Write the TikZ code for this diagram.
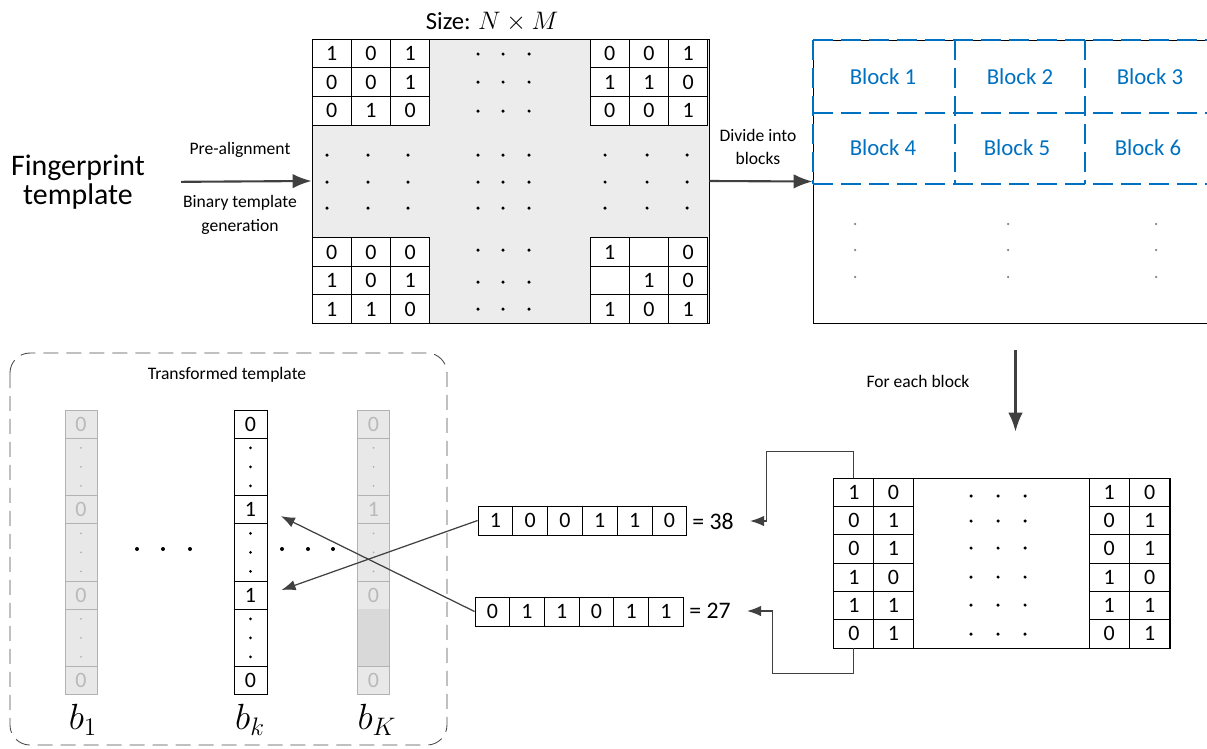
\documentclass[tikz,border=0pt]{standalone}
\usepackage{fontspec}
\setmainfont{Carlito}
\usepackage{amsmath}
\usetikzlibrary{arrows,arrows.meta,calc}

\definecolor{blockblue}{RGB}{0,112,192}
\definecolor{tmplgray}{RGB}{236,236,236}

\tikzset{
  arr/.style={-{Latex[length=3.8mm,width=2.9mm]}, line width=1.2pt, draw=black!75},
  thinarr/.style={-{Latex[length=2.8mm,width=2.1mm]}, line width=0.7pt, draw=black!75},
  cell/.style={draw, inner sep=0pt, font=\fontsize{12.5}{13}\selectfont},
  tcell/.style={cell, fill=white, minimum width=7.86mm, minimum height=5.74mm},
  mcell/.style={cell, fill=white, minimum width=8mm, minimum height=5.67mm},
  vcell/.style={cell, minimum width=6.95mm, minimum height=5.8mm},
  bitcell/.style={cell, minimum width=6.6mm},
  graycell/.style={cell, draw=gray!60, fill=gray!18, text=gray!55, minimum width=6.4mm},
  lbl/.style={font=\fontsize{10}{13.6}\selectfont, align=center},
  blocktxt/.style={text=blockblue, font=\fontsize{13}{14}\selectfont},
  blockline/.style={draw=blockblue, line width=1.2pt, dash pattern=on 4mm off 1.6mm},
  blab/.style={font=\fontsize{21}{23}\selectfont},
}

\begin{document}
\begin{tikzpicture}[x=0.02cm, y=-0.02cm, line width=0.5pt]
  \useasboundingbox (0,0) rectangle (1207,748);

  % input and the binary template
  \node[font=\fontsize{17}{16.4}\selectfont, align=center] (fp) at (78,182) {Fingerprint\\template};
  \node[draw, fill=tmplgray, inner sep=0pt, minimum width=79.4mm, minimum height=56.8mm] (tmpl) at (510.5,181) {};
  \node[font=\fontsize{14}{16}\selectfont] (size) at (492,22) {Size: $N\times M$};
  \draw[arr, shorten <=6mm] (fp.east) -- (tmpl.west);
  \node[lbl] (prealign) at (240,150) {Pre-alignment};
  \node[lbl] (bingen) at (240,215) {Binary template\\generation};

  % corner cells of the template
  \foreach \vals [count=\r from 0] in {{1,0,1},{0,0,1},{0,1,0}}
    \foreach \v [count=\c from 0] in \vals
      \node[tcell] (tl-\r-\c) at ({312+(\c+0.5)*39.3},{39+(\r+0.5)*28.7}) {\v};
  \foreach \vals [count=\r from 0] in {{0,0,1},{1,1,0},{0,0,1}}
    \foreach \v [count=\c from 0] in \vals
      \node[tcell] (tr-\r-\c) at ({590+(\c+0.5)*39.3},{39+(\r+0.5)*28.7}) {\v};
  \foreach \vals [count=\r from 0] in {{0,0,0},{1,0,1},{1,1,0}}
    \foreach \v [count=\c from 0] in \vals
      \node[tcell] (bl-\r-\c) at ({312+(\c+0.5)*39.3},{238+(\r+0.5)*28.4}) {\v};
  \foreach \vals [count=\r from 0] in {{1,{},0},{{},1,0},{1,0,1}}
    \foreach \v [count=\c from 0] in \vals
      \node[tcell] (br-\r-\c) at ({590+(\c+0.5)*39.3},{238+(\r+0.5)*28.4}) {\v};

  % dots in the template
  \foreach \x in {478,503,529}
    \foreach \y in {54,82,111,155,182,208,250,282,309}
      \fill (\x,\y) circle[radius=0.35mm];
  \foreach \x in {327,368,408,605,647,687}
    \foreach \y in {155,182,208}
      \fill (\x,\y) circle[radius=0.35mm];

  % blocks
  \node[draw, inner sep=0pt, minimum width=81mm, minimum height=56.6mm] (grid) at (1015.5,181.5) {};
  \draw[arr] (tmpl.east) -- (grid.west);
  \node[lbl] (divide) at (758,147) {Divide into\\blocks};
  \draw[blockline] (813,40) -- (1215,40);
  \draw[blockline] (813,113) -- (1215,113);
  \draw[blockline] (813,184) -- (1215,184);
  \draw[blockline] (813,40) -- (813,184);
  \draw[blockline] (955,40) -- (955,184);
  \draw[blockline] (1085,40) -- (1085,184);
  \foreach \n/\x/\y in {1/883/77,2/1020/77,3/1150/77,4/883/148,5/1017/148,6/1148/148}
    \node[blocktxt] (blk\n) at (\x,\y) {Block \n};
  \foreach \x in {855,1008,1156}
    \foreach \y in {224,250,277}
      \fill[gray] (\x,\y) circle[radius=0.25mm];

  % one block
  \node[draw, inner sep=0pt, minimum width=67.2mm, minimum height=34mm] (blkmat) at (1002,563) {};
  \foreach \vals [count=\r from 0] in {{1,0},{0,1},{0,1},{1,0},{1,1},{0,1}} {
    \foreach \v [count=\c from 0] in \vals {
      \node[mcell] (ml-\r-\c) at ({834+(\c+0.5)*39.7},{478+(\r+0.5)*28.33}) {\v};
      \node[mcell] (mr-\r-\c) at ({1089+(\c+0.5)*40.5},{478+(\r+0.5)*28.33}) {\v};
    }
  }
  \foreach \x in {971,998,1025}
    \foreach \y in {496,521,548,577,605,634}
      \fill (\x,\y) circle[radius=0.35mm];
  \draw[arr, shorten <=5.4mm, shorten >=9.2mm] (grid.south) -- (grid.south |- blkmat.north);
  \node[lbl] (foreach) at (918,381) {For each block};

  % block rows read out as numbers
  \foreach \v [count=\c from 0] in {1,0,0,1,1,0}
    \node[vcell] (va-\c) at ({478+(\c+0.5)*34.8},520.5) {\v};
  \foreach \v [count=\c from 0] in {0,1,1,0,1,1}
    \node[vcell] (vb-\c) at ({475+(\c+0.5)*34.7},611.5) {\v};
  \node[anchor=west, inner sep=0pt, font=\fontsize{13.5}{14}\selectfont] (eqa) at (692,521) {= 38};
  \node[anchor=west, inner sep=0pt, font=\fontsize{13.5}{14}\selectfont] (eqb) at (689,611) {= 27};
  \draw[thinarr] (ml-0-0.north) -- ++(0,-26) -- ++(-87,0) |- ([xshift=3.2mm]eqa.east);
  \draw[thinarr] (ml-5-0.south) -- ++(0,25) -- ++(-81,0) |- ([xshift=3.2mm]eqb.east);

  % transformed template
  \draw[dashed, dash pattern=on 3mm off 1.6mm, rounded corners=4mm, draw=black!70] (10,353) rectangle (447,745);
  \node[lbl] (trtitle) at (227,375) {Transformed template};
  \foreach \i/\yc/\h/\t in {1/424/28/0,2/466.75/57.5/{},3/509.5/28/0,4/552.25/57.5/{},5/595/28/0,6/637.75/57.5/{},7/680.5/28/0}
    \node[graycell, minimum height=\h*0.2mm] (bfirst-\i) at (81,\yc) {\t};
  \foreach \i/\yc/\h/\t in {1/424/28/0,2/466.75/57.5/{},3/509.5/28/1,4/552.25/57.5/{},5/595/28/1,6/637.75/57.5/{},7/680.5/28/0}
    \node[bitcell, minimum height=\h*0.2mm] (bk-\i) at (250.5,\yc) {\t};
  \foreach \i/\yc/\h/\t in {1/424/28/0,2/466.75/57.5/{},3/509.5/28/1,4/552.25/57.5/{},5/595/28/0,6/637.75/57.5/{},7/680.5/28/0}
    \node[graycell, minimum height=\h*0.2mm] (blast-\i) at (373.5,\yc) {\t};
  \fill[gray!30] ([shift={(0.3pt,-0.3pt)}]blast-6.north west) rectangle ([shift={(-0.3pt,0.3pt)}]blast-6.south east);
  \foreach \yc in {466.75,552.25,637.75}
    \foreach \d in {-19,0,19} {
      \fill (250.5,\yc+\d) circle[radius=0.3mm];
      \fill[gray!60] (81,\yc+\d) circle[radius=0.2mm];
    }
  \foreach \yc in {466.75,552.25}
    \foreach \d in {-19,0,19}
      \fill[gray!60] (373.5,\yc+\d) circle[radius=0.2mm];
  \foreach \x in {137,163,190,282,308,333}
    \fill (\x,549) circle[radius=0.4mm];
  \node[blab] (lbfirst) at (83,720) {$b_1$};
  \node[blab] (lbk) at (250,720) {$b_k$};
  \node[blab] (lblast) at (377,720) {$b_K$};

  % rows placed into b_k
  \draw[thinarr, shorten >=3mm] (va-0.west) -- (bk-5.east);
  \draw[thinarr, shorten >=3mm] (vb-0.west) -- (bk-3.east);
\end{tikzpicture}
\end{document}
